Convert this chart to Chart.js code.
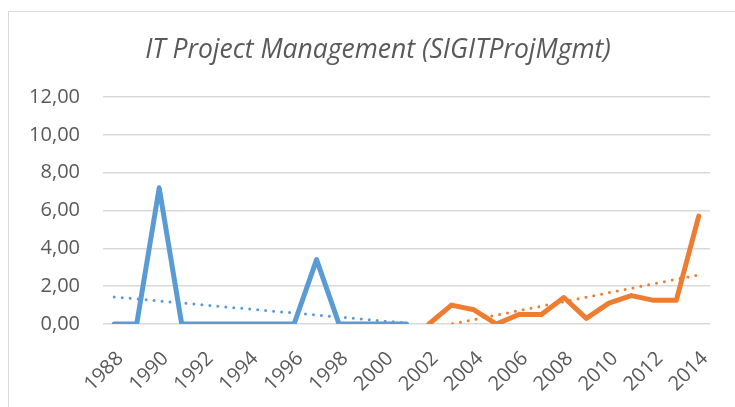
<!DOCTYPE html>
<html>
<head>
<meta charset="utf-8">
<script src="https://cdn.jsdelivr.net/npm/chart.js@4"></script>
<style>
  html, body { margin: 0; padding: 0; background: #fff; overflow: hidden; }
  #frame { position: absolute; left: 8px; top: 11px; width: 800px; height: 500px; border: 1px solid #d9d9d9; box-sizing: border-box; }
  #wrap { position: absolute; left: 0; top: 0; width: 735px; height: 407px; }
</style>
</head>
<body>
<div id="frame"></div>
<div id="wrap"><canvas id="c" width="735" height="407"></canvas></div>
<script>
const years = ['1988','1989','1990','1991','1992','1993','1994','1995','1996','1997','1998','1999','2000','2001',
               '2002','2003','2004','2005','2006','2007','2008','2009','2010','2011','2012','2013','2014'];
const blueValues = [0, 0, 7.2, 0, 0, 0, 0, 0, 0, 3.4, 0, 0, 0, 0,
                    null, null, null, null, null, null, null, null, null, null, null, null, null];
const orangeValues = [null, null, null, null, null, null, null, null, null, null, null, null, null, null,
                      0, 1.0, 0.75, 0, 0.5, 0.5, 1.4, 0.3, 1.1, 1.5, 1.25, 1.25, 5.7];
const blueTrend = [1.43, null, null, null, null, null, null, null, null, null, null, null, null, 0.05,
                   null, null, null, null, null, null, null, null, null, null, null, null, null];
const orangeTrend = [null, null, null, null, null, null, null, null, null, null, null, null, null, null,
                     -0.24, null, null, null, null, null, null, null, null, null, null, null, 2.6];
const yTickLabels = ['0,00', '2,00', '4,00', '6,00', '8,00', '10,00', '12,00'];
const titleText = 'IT Project Management (SIGITProjMgmt)';

const BLUE = '#5B9BD5';
const ORANGE = '#ED7D31';
const TEXT = '#595959';
const GRID = '#d9d9d9';

const titlePlugin = {
  id: 'offsetTitle',
  afterDraw(chart) {
    const ctx = chart.ctx;
    ctx.save();
    ctx.font = 'italic 26.5px "Open Sans"';
    ctx.fillStyle = TEXT;
    ctx.textAlign = 'center';
    ctx.textBaseline = 'alphabetic';
    ctx.fillText(titleText, 378, 58);
    ctx.restore();
  }
};

new Chart(document.getElementById('c'), {
  type: 'line',
  data: {
    labels: years,
    datasets: [
      { data: blueTrend, borderColor: BLUE, borderWidth: 3, borderDash: [0, 8], borderCapStyle: 'round',
        spanGaps: true, pointRadius: 0, fill: false, tension: 0 },
      { data: orangeTrend, borderColor: ORANGE, borderWidth: 3, borderDash: [0, 8], borderCapStyle: 'round',
        spanGaps: true, pointRadius: 0, fill: false, tension: 0 },
      { data: blueValues, borderColor: BLUE, borderWidth: 5, borderJoinStyle: 'round', borderCapStyle: 'round',
        pointRadius: 0, fill: false, tension: 0 },
      { data: orangeValues, borderColor: ORANGE, borderWidth: 5, borderJoinStyle: 'round', borderCapStyle: 'round',
        pointRadius: 0, fill: false, tension: 0 }
    ]
  },
  plugins: [titlePlugin],
  options: {
    responsive: false,
    animation: false,
    devicePixelRatio: 1,
    layout: { padding: { left: 0, right: 25, top: 97, bottom: 0 } },
    plugins: {
      legend: { display: false },
      tooltip: { enabled: false },
      title: { display: false }
    },
    scales: {
      x: {
        offset: true,
        grid: { display: false },
        border: { display: false },
        ticks: {
          color: TEXT,
          font: { family: 'Open Sans', size: 20 },
          maxRotation: 45, minRotation: 45,
          autoSkip: false,
          padding: 15,
          labelOffset: 6,
          callback: function(v, i) { return i % 2 === 0 ? years[i] : ''; }
        },
        afterFit: function(s) { s.height = 83; }
      },
      y: {
        min: 0, max: 12,
        grid: { color: GRID, lineWidth: 1.5, drawTicks: false },
        border: { display: false },
        ticks: {
          stepSize: 2,
          color: TEXT,
          font: { family: 'Open Sans', size: 20 },
          padding: 23,
          callback: function(v) { return yTickLabels[Math.round(v / 2)]; }
        },
        afterFit: function(s) { s.width = 103; }
      }
    }
  }
});
</script>
</body>
</html>
